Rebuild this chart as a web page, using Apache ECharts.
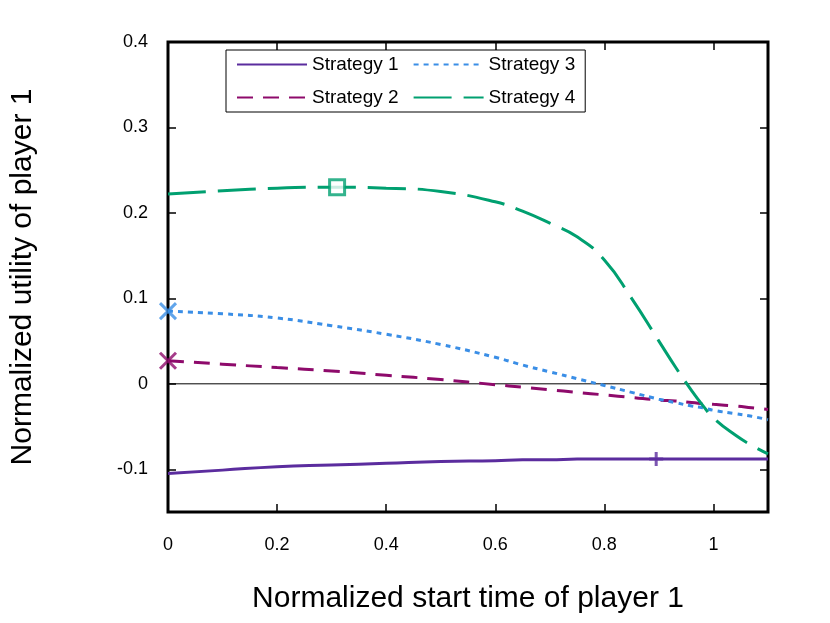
<!DOCTYPE html>
<html>
<head>
<meta charset="utf-8">
<script src="https://cdn.jsdelivr.net/npm/echarts@6/dist/echarts.min.js"></script>
<style>html,body{margin:0;background:#fff}#c{width:830px;height:623px}</style>
</head>
<body>
<div id="c"></div>
<script>
var xs = [0, 0.1, 0.2, 0.3, 0.4, 0.5, 0.6, 0.65, 0.7, 0.75, 0.8, 0.85, 0.9, 0.93, 0.96, 0.98, 1.0, 1.04, 1.07, 1.1];
var s1 = [-0.105, -0.101, -0.097, -0.095, -0.093, -0.091, -0.090, -0.089, -0.089, -0.088, -0.088, -0.088, -0.088, -0.088, -0.088, -0.088, -0.088, -0.088, -0.088, -0.088];
var s2 = [0.027, 0.023, 0.019, 0.015, 0.010, 0.005, -0.001, -0.004, -0.007, -0.010, -0.013, -0.016, -0.019, -0.020, -0.022, -0.023, -0.024, -0.026, -0.028, -0.030];
var s3 = [0.085, 0.082, 0.077, 0.068, 0.058, 0.046, 0.031, 0.022, 0.014, 0.006, -0.002, -0.010, -0.018, -0.022, -0.026, -0.028, -0.031, -0.035, -0.038, -0.042];
var s4 = [0.222, 0.226, 0.229, 0.230, 0.229, 0.225, 0.213, 0.202, 0.188, 0.172, 0.145, 0.100, 0.050, 0.020, -0.008, -0.025, -0.040, -0.060, -0.072, -0.082];
var yTicks = [-0.1, 0, 0.1, 0.2, 0.3, 0.4];
var names = ['Strategy 1', 'Strategy 2', 'Strategy 3', 'Strategy 4'];
var colors = ['#5b2c9e', '#8e0a6b', '#3a8ee6', '#00a070'];
var markS1 = [[0.895, -0.088]];
var markS2 = [[0, 0.027]];
var markS3 = [[0, 0.085]];
var markS4 = [[0.31, 0.230]];

var chart = echarts.init(document.getElementById('c'));
function pts(ys) { return xs.map(function (x, i) { return [x, ys[i]]; }); }
var crossPath = 'path://M0,0L10,10M10,0L0,10';
var plusPath = 'path://M5,0L5,10M0,5L10,5';
var dashes = ['solid', [16, 10], [5, 5], [38, 12]];
var series = names.map(function (n, i) {
    return {
        name: n, type: 'line', data: pts([s1, s2, s3, s4][i]), smooth: true, symbol: 'none',
        lineStyle: { color: colors[i], width: 3, type: dashes[i] }, itemStyle: { color: colors[i] },
        z: 3
    };
});
series.push({ name: 'm1', type: 'scatter', data: markS1, symbol: plusPath, symbolSize: 14, itemStyle: { color: 'none', borderColor: colors[0], borderWidth: 3 }, z: 4 });
series.push({ name: 'm2', type: 'scatter', data: markS2, symbol: crossPath, symbolSize: 16, itemStyle: { color: 'none', borderColor: colors[1], borderWidth: 3 }, z: 4 });
series.push({ name: 'm3', type: 'scatter', data: markS3, symbol: crossPath, symbolSize: 16, itemStyle: { color: 'none', borderColor: colors[2], borderWidth: 3 }, z: 4 });
series.push({ name: 'm4', type: 'scatter', data: markS4, symbol: 'rect', symbolSize: 15, itemStyle: { color: '#fff', borderColor: colors[3], borderWidth: 3 }, z: 4 });
series.push({ name: 'zero', type: 'line', data: [[0, 0], [1.1, 0]], symbol: 'none', lineStyle: { color: '#000', width: 1 }, z: 2, silent: true });

var tick = { inside: true, length: 8, lineStyle: { color: '#000', width: 1.5 } };
chart.setOption({
    animation: false,
    textStyle: { fontFamily: 'Liberation Sans' },
    grid: { left: 168, right: 62, top: 42, bottom: 111, show: true, borderColor: '#000', borderWidth: 3, backgroundColor: 'transparent' },
    legend: {
        data: ['Strategy 1', 'Strategy 3', 'Strategy 2', 'Strategy 4'],
        left: 226, top: 50, width: 480, itemWidth: 70, itemHeight: 14, itemGap: 14,
        itemStyle: { opacity: 0 },
        backgroundColor: '#fff', borderColor: '#000', borderWidth: 1, padding: [5, 10, 5, 10],
        textStyle: { fontSize: 19, color: '#000', width: 150 }
    },
    xAxis: [{
        type: 'value', min: 0, max: 1.1, interval: 0.2,
        name: 'Normalized start time of player 1', nameLocation: 'middle', nameGap: 72,
        nameTextStyle: { fontSize: 30, color: '#000' },
        axisLine: { show: false, onZero: false }, splitLine: { show: false },
        axisTick: tick,
        axisLabel: { fontSize: 18, color: '#000', margin: 24, showMaxLabel: false }
    }, {
        type: 'value', min: 0, max: 1.1, interval: 0.2, position: 'top',
        axisLine: { show: false, onZero: false }, splitLine: { show: false },
        axisTick: tick, axisLabel: { show: false }
    }],
    yAxis: [{
        type: 'value', min: -0.15, max: 0.4,
        name: 'Normalized utility of player 1', nameLocation: 'middle', nameGap: 130,
        nameTextStyle: { fontSize: 30, color: '#000' },
        axisLine: { show: false, onZero: false }, splitLine: { show: false },
        axisTick: Object.assign({ customValues: yTicks }, tick),
        axisLabel: { fontSize: 18, color: '#000', margin: 20, customValues: yTicks,
            formatter: function (v) { return v === 0 ? '0' : String(Math.round(v * 10) / 10); } }
    }, {
        type: 'value', min: -0.15, max: 0.4, position: 'right',
        axisLine: { show: false, onZero: false }, splitLine: { show: false },
        axisTick: Object.assign({ customValues: yTicks }, tick),
        axisLabel: { show: false, customValues: yTicks }
    }],
    series: series
});
</script>
</body>
</html>
